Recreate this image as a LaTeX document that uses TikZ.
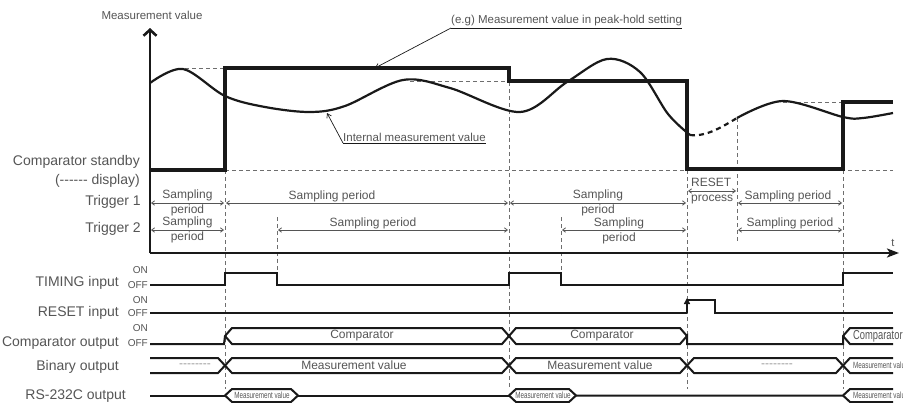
\documentclass[tikz,border=0pt]{standalone}
\usepackage{fontspec}
\setmainfont{Liberation Sans}
\usetikzlibrary{arrows.meta}
\definecolor{txtGray}{RGB}{85,85,85}
\definecolor{lineBlack}{RGB}{25,25,25}
\definecolor{guideGray}{RGB}{110,110,110}

\begin{document}
\begin{tikzpicture}[x=1pt, y=-1pt,
    sig/.style={draw=lineBlack, line width=2pt, line join=miter},
    hold/.style={draw=lineBlack, line width=3.2pt, line join=miter},
    meas/.style={draw=lineBlack, line width=2.2pt},
    axis/.style={draw=lineBlack, line width=2.6pt},
    guide/.style={draw=guideGray, line width=0.9pt, dash pattern=on 4pt off 3pt},
    period/.style={draw=txtGray, line width=0.8pt,
                   {Straight Barb[length=3pt,width=4.5pt]}-{Straight Barb[length=3pt,width=4.5pt]}},
    leader/.style={draw=lineBlack, line width=0.7pt},
    rowlbl/.style={anchor=east, text=txtGray, font=\fontsize{14}{14}\selectfont, inner sep=0pt},
    lvl/.style={anchor=east, text=txtGray, font=\fontsize{10}{10}\selectfont, inner sep=0pt},
    plbl/.style={text=txtGray, font=\fontsize{12}{15}\selectfont, align=center, inner sep=0pt},
    buslbl/.style={text=txtGray, font=\fontsize{12}{12}\selectfont, inner sep=0pt},
    tinylbl/.style={text=txtGray, font=\fontsize{9}{9}\selectfont, inner sep=0pt},
    note/.style={text=txtGray, font=\fontsize{11.5}{11.5}\selectfont, inner xsep=0pt, inner ysep=1.5pt},
  ]
    \useasboundingbox (0,0) rectangle (903,402);

    % guide lines
    \draw[guide] (225,170) -- (893,170);
    \draw[guide] (185,68) -- (225,68);
    \draw[guide] (410,81) -- (509,81);
    \draw[guide] (783,102) -- (843,102);
    \draw[guide] (225,170) -- (225,389);
    \draw[guide] (277,217) -- (277,273);
    \draw[guide] (509,82) -- (509,389);
    \draw[guide] (561,217) -- (561,273);
    \draw[guide] (687,170) -- (687,389);
    \draw[guide] (737,118) -- (737,242);
    \draw[guide] (843,170) -- (843,389);

    % axes
    \draw[axis, -{Straight Barb[length=6pt,width=13pt]}] (150,253) -- (150,28);
    \draw[axis, -{Stealth[length=12pt,width=9pt,inset=3pt]}] (150,253) -- (899,253);
    \node[text=txtGray, font=\fontsize{11.5}{11.5}\selectfont] (yname) at (152,15) {Measurement value};
    \node[text=txtGray, font=\fontsize{11}{11}\selectfont] (tname) at (893,243) {t};

    % measured values
    \draw[meas] plot[smooth, tension=0.55] coordinates {(150,83) (183,69) (225,96) (265,107) (310,112)
      (345,106) (403,80) (450,88) (520,112) (567,82) (607,59) (640,72) (668,114) (690,135)};
    \draw[meas, dash pattern=on 5pt off 4pt] (690,135) .. controls (706,137) and (722,127) .. (737,118);
    \draw[meas] plot[smooth, tension=0.55] coordinates {(737,118) (783,101) (843,117) (863,118) (893,113)};
    \draw[hold] (150,170) -- (225,170) -- (225,68) -- (509,68) -- (509,81) -- (687,81)
      -- (687,169) -- (843,169) -- (843,102) -- (893,102);

    \coordinate (holdpt) at (375,68);
    \coordinate (intpt) at (327,113);
    \node[note, anchor=south west] (holdlbl) at (451,28) {(e.g) Measurement value in peak-hold setting};
    \draw[leader] (holdlbl.south west) -- (holdlbl.south east);
    \draw[leader, -{Straight Barb[length=4pt,width=5pt]}] (holdlbl.south west) -- (holdpt);
    \node[note, anchor=south west] (intlbl) at (343,143) {Internal measurement value};
    \draw[leader] (intlbl.south west) -- (intlbl.south east);
    \draw[leader, -{Straight Barb[length=4pt,width=5pt]}] (intlbl.south west) -- (intpt);

    % row labels
    \node[rowlbl] (standby) at (140,162) {Comparator standby};
    \node[rowlbl] (disp) at (140,181) {(-{}-{}-{}-{}-{}- display)};
    \node[rowlbl] (trig1) at (141,202) {Trigger 1};
    \node[rowlbl] (trig2) at (141,229) {Trigger 2};
    \node[rowlbl] (timing) at (119,283) {TIMING input};
    \node[rowlbl] (reset) at (119,313) {RESET input};
    \node[rowlbl] (cmpout) at (119,343) {Comparator output};
    \node[rowlbl] (binout) at (119,367) {Binary output};
    \node[rowlbl] (rsout) at (126,396) {RS-232C output};
    \node[lvl] (timingon) at (148,270) {ON};
    \node[lvl] (timingoff) at (148,285) {OFF};
    \node[lvl] (reseton) at (148,300) {ON};
    \node[lvl] (resetoff) at (148,313) {OFF};
    \node[lvl] (cmpon) at (148,328) {ON};
    \node[lvl] (cmpoff) at (148,343) {OFF};

    % sampling periods
    \draw[period] (151,203) -- (224,203) node[plbl, midway] {Sampling\\period};
    \draw[period] (226,203) -- (508,203);
    \node[plbl] (per1b) at (332,196) {Sampling period};
    \draw[period] (510,203) -- (686,203) node[plbl, midway] {Sampling\\period};
    \draw[period] (688,191) -- (736,191);
    \node[plbl, align=left, anchor=west] (rstproc) at (691,191) {RESET\\process};
    \draw[period] (738,203) -- (842,203);
    \node[plbl] (per1d) at (788,196) {Sampling period};
    \draw[period] (151,230) -- (224,230) node[plbl, midway] {Sampling\\period};
    \draw[period] (278,230) -- (508,230);
    \node[plbl] (per2b) at (373,223) {Sampling period};
    \draw[period] (562,230) -- (686,230);
    \node[plbl] (per2c) at (619,230.5) {Sampling\\period};
    \draw[period] (738,230) -- (842,230);
    \node[plbl] (per2d) at (790,223) {Sampling period};

    % TIMING and RESET inputs
    \draw[sig] (150,285) -- (225,285) -- (225,273) -- (277,273) -- (277,285) -- (509,285)
      -- (509,273) -- (561,273) -- (561,285) -- (843,285) -- (843,273) -- (893,273);
    \draw[sig] (150,313) -- (687,313);
    \draw[sig, -{Triangle[length=6pt,width=6pt]}] (687,313) -- (687,298);
    \draw[sig] (687,300) -- (715,300) -- (715,313) -- (893,313);

    % comparator output
    \draw[sig] (150,344) -- (224,344) -- (225,336) -- (232,328) -- (502,328) -- (516,344) -- (680,344)
      -- (687,336) -- (687,344) -- (843,344) -- (843,336) -- (850,328) -- (893,328);
    \draw[sig] (225,336) -- (232,344) -- (502,344) -- (516,328) -- (680,328) -- (687,336);
    \draw[sig] (843,336) -- (850,344) -- (893,344);
    \node[buslbl] (cmp1) at (362,336) {Comparator};
    \node[buslbl] (cmp2) at (602,336) {Comparator};

    % binary output
    \draw[sig] (150,358) -- (218,358) -- (232,373) -- (502,373) -- (516,358) -- (680,358) -- (694,373)
      -- (836,373) -- (850,358) -- (893,358);
    \draw[sig] (150,373) -- (218,373) -- (232,358) -- (502,358) -- (516,373) -- (680,373) -- (694,358)
      -- (836,358) -- (850,373) -- (893,373);
    \node[buslbl, text=txtGray!60] (bin0) at (195,365.5) {-{}-{}-{}-{}-{}-{}-{}-};
    \node[buslbl] (bin1) at (354,365.5) {Measurement value};
    \node[buslbl] (bin2) at (600,365.5) {Measurement value};
    \node[buslbl, text=txtGray!60] (bin3) at (777,365.5) {-{}-{}-{}-{}-{}-{}-{}-};

    % RS-232C output
    \draw[sig] (150,395.5) -- (225,395.5);
    \draw[sig] (225,395.5) -- (232,389) -- (291,389) -- (298,395.5) -- (291,402) -- (232,402) -- cycle;
    \draw[sig] (298,395.5) -- (509,395.5);
    \draw[sig] (509,395.5) -- (516,389) -- (569,389) -- (576,395.5) -- (569,402) -- (516,402) -- cycle;
    \draw[sig] (576,395.5) -- (843,395.5) -- (850,389) -- (893,389);
    \draw[sig] (843,395.5) -- (850,402) -- (893,402);
    \node[tinylbl] (rs1) at (262,395.5) {\scalebox{0.7}[1]{Measurement value}};
    \node[tinylbl] (rs2) at (543,395.5) {\scalebox{0.7}[1]{Measurement value}};

    \begin{scope}
      \clip (840,320) rectangle (903,402);
      \node[buslbl, anchor=west, font=\fontsize{13}{13}\selectfont] (cmp3) at (853,336) {\scalebox{0.72}[1]{Comparator}};
      \node[tinylbl, anchor=west] (bin4) at (853,365.5) {\scalebox{0.7}[1]{Measurement value}};
      \node[tinylbl, anchor=west] (rs3) at (853,395.5) {\scalebox{0.7}[1]{Measurement value}};
    \end{scope}
  \end{tikzpicture}
\end{document}
